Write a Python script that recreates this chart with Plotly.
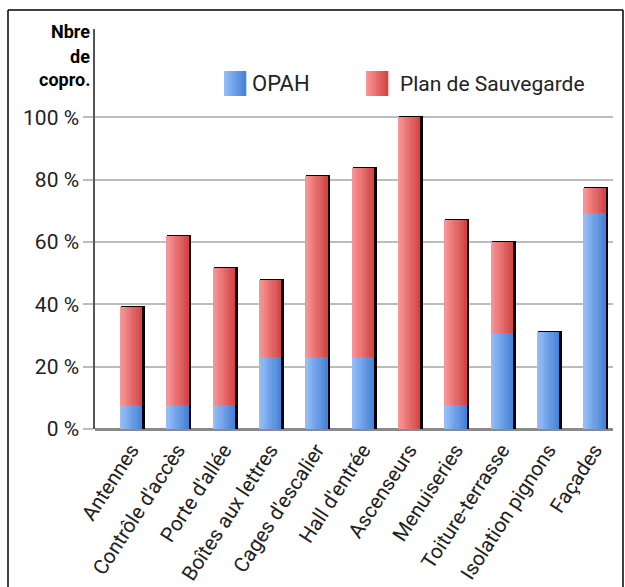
import plotly.graph_objects as go

categories = ["Antennes", "Contrôle d'accès", "Porte d'allée", "Boîtes aux lettres",
              "Cages d'escalier", "Hall d'entrée", "Ascenseurs", "Menuiseries",
              "Toiture-terrasse", "Isolation pignons", "Façades"]
opah = [7.6, 7.6, 7.6, 23.0, 23.0, 23.0, 0.0, 7.6, 30.8, 31.2, 69.3]
plan = [31.4, 54.3, 44.1, 24.9, 58.3, 60.7, 100.2, 59.4, 29.2, 0.0, 8.0]
y_ticks = [0, 20, 40, 60, 80, 100]
y_tick_labels = ["0 %", "20 %", "40 %", "60 %", "80 %", "100 %"]
series_names = ["OPAH", "Plan de Sauvegarde"]
y_title_lines = ["Nbre", "de", "copro."]

FONT = "Roboto, Liberation Sans, sans-serif"
W, H = 625, 587
L, R, T, B = 95, 613, 29, 429          # plot area in pixels
x_range = [-0.78, 10.40]
unit = (R - L) / (x_range[1] - x_range[0])
bar_w = 22 / unit
shadow_dx = 2 / unit
N_SLICES = 10

blue_l, blue_r = (150, 192, 250), (70, 128, 212)
red_l, red_r = (252, 152, 152), (208, 66, 66)


def mix(c1, c2, t):
    return "rgb(%d,%d,%d)" % tuple(round(a + (b - a) * t) for a, b in zip(c1, c2))


x_idx = list(range(len(categories)))
totals = [a + b for a, b in zip(opah, plan)]

fig = go.Figure()
# shadow
fig.add_trace(go.Bar(x=x_idx, y=totals, width=bar_w, offset=-bar_w / 2 + shadow_dx,
                     marker=dict(color="black", line=dict(color="black", width=2)),
                     showlegend=False, hoverinfo="skip"))
# gradient slices
for i in range(N_SLICES):
    t = (i + 0.5) / N_SLICES
    sw = bar_w / N_SLICES
    off = -bar_w / 2 + i * sw
    fig.add_trace(go.Bar(x=x_idx, y=opah, width=sw * 1.02, offset=off,
                         marker=dict(color=mix(blue_l, blue_r, t), line=dict(width=0)),
                         name=series_names[0], showlegend=False))
    fig.add_trace(go.Bar(x=x_idx, y=plan, base=opah, width=sw * 1.02, offset=off,
                         marker=dict(color=mix(red_l, red_r, t), line=dict(width=0)),
                         name=series_names[1], showlegend=False))


def px_x(p):
    return (p - L) / (R - L)


def px_y(p):
    return (B - p) / (B - T)


shapes = []
# frame
for (x0, y0, x1, y1) in [(8, 10, 623, 10), (8, 10, 8, 600), (623, 10, 623, 600)]:
    shapes.append(dict(type="line", xref="paper", yref="paper",
                       x0=px_x(x0), y0=px_y(y0), x1=px_x(x1), y1=px_y(y1),
                       line=dict(color="black", width=1.5)))
# legend swatches
for (sx, cl, cr) in [(224, blue_l, blue_r), (366, red_l, red_r)]:
    n = 11
    for i in range(n):
        t = (i + 0.5) / n
        shapes.append(dict(type="rect", xref="paper", yref="paper",
                           x0=px_x(sx + 22 * i / n), x1=px_x(sx + 22 * (i + 1) / n + 0.3),
                           y0=px_y(96), y1=px_y(71),
                           fillcolor=mix(cl, cr, t), line=dict(width=0), layer="above"))

annotations = []
for line_text, cy in zip(y_title_lines, [31, 56, 79]):
    annotations.append(dict(text="<b>%s</b>" % line_text, xref="paper", yref="paper",
                            x=px_x(92), y=px_y(cy), xanchor="right", yanchor="middle",
                            showarrow=False, font=dict(family=FONT, size=18, color="black")))
annotations += [
    dict(text=series_names[0], xref="paper", yref="paper", x=px_x(250), y=px_y(84),
         xanchor="left", yanchor="middle", showarrow=False,
         font=dict(family=FONT, size=22, color="#222")),
    dict(text=series_names[1], xref="paper", yref="paper", x=px_x(398), y=px_y(84),
         xanchor="left", yanchor="middle", showarrow=False,
         font=dict(family=FONT, size=21, color="#222")),
]

fig.update_layout(
    width=W, height=H, autosize=False,
    margin=dict(l=L, r=W - R, t=T, b=H - B, pad=0),
    paper_bgcolor="white", plot_bgcolor="white",
    barmode="overlay", bargap=0,
    showlegend=False,
    shapes=shapes, annotations=annotations,
    font=dict(family=FONT, color="#222"),
    xaxis=dict(range=x_range, tickmode="array", tickvals=x_idx, ticktext=categories,
               tickangle=-57, tickfont=dict(family=FONT, size=20.5, color="#222"),
               ticklabelstandoff=4, automargin=False,
               showgrid=False, zeroline=False, showline=False, ticks="", fixedrange=True),
    yaxis=dict(range=[0, 128.3], tickmode="array", tickvals=y_ticks, ticktext=y_tick_labels,
               tickfont=dict(family=FONT, size=21, color="#222"), automargin=False,
               showgrid=True, gridcolor="#bcbcbc", gridwidth=2,
               ticks="outside", ticklen=10, tickcolor="#bcbcbc", tickwidth=2,
               showline=True, linecolor="#555", linewidth=1.5,
               zeroline=True, zerolinecolor="#8a8a8a", zerolinewidth=2.5, fixedrange=True),
)

fig.write_html("out.html", config={"displayModeBar": False},
               post_script="document.body.style.margin='0';document.body.style.overflow='hidden';")
